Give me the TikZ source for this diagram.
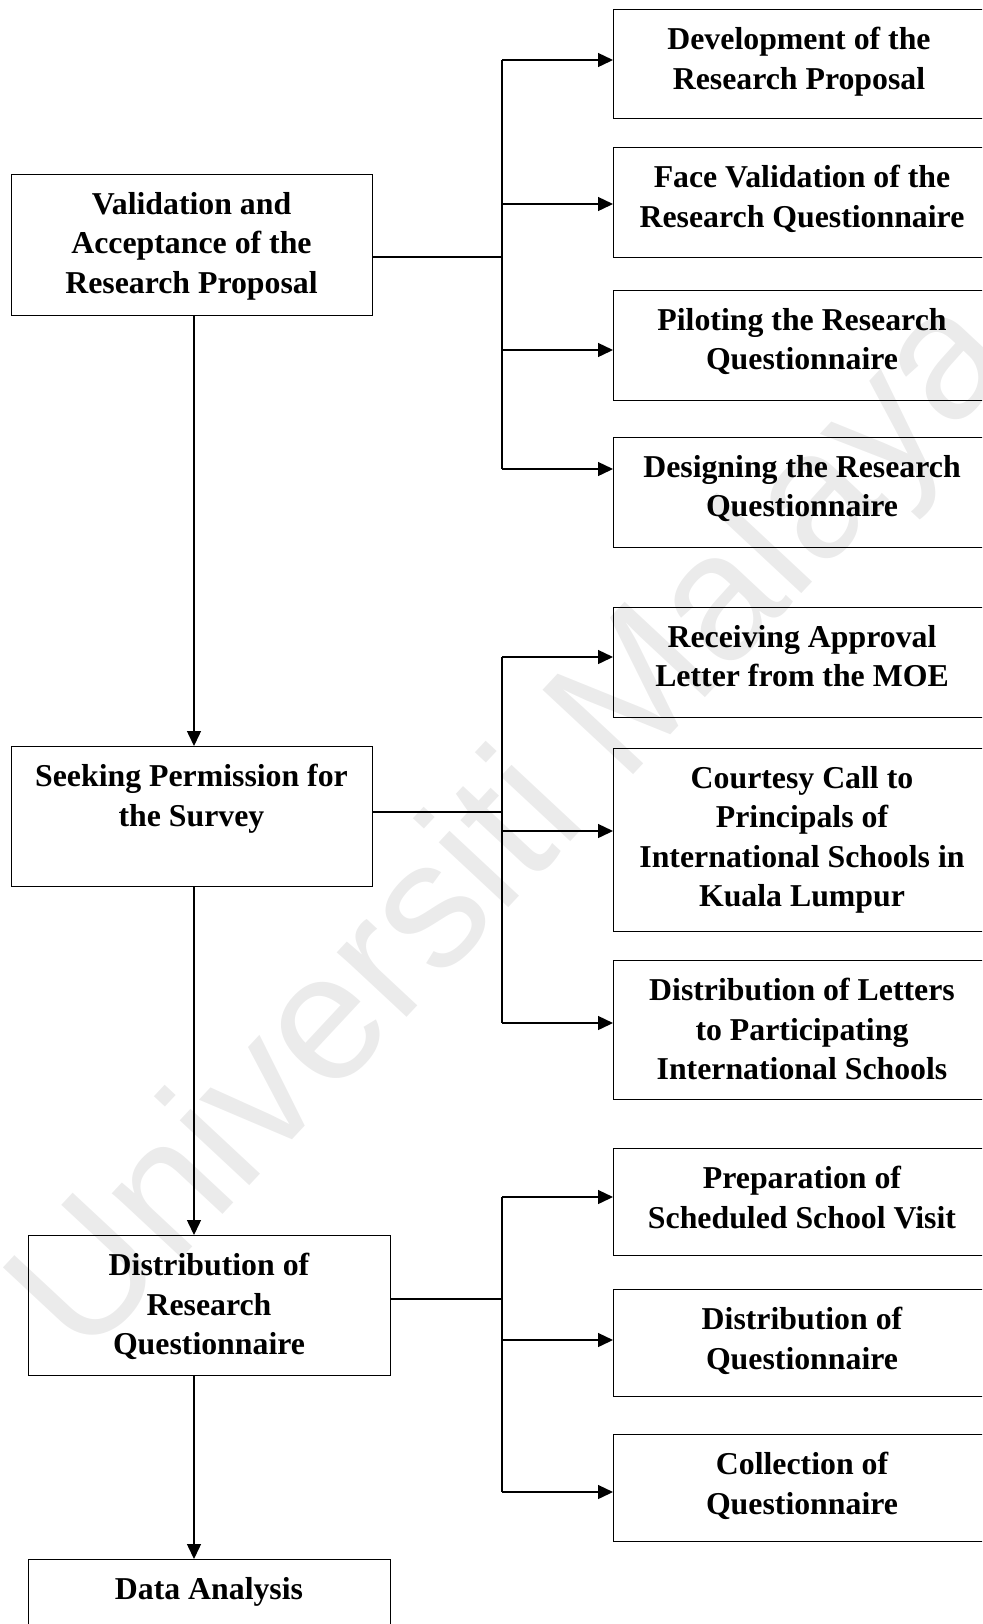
\documentclass[tikz,border=0pt]{standalone}
\usepackage{fontspec}
\setmainfont{Liberation Serif}
\newfontfamily\markfont{Liberation Sans}
\usetikzlibrary{arrows.meta}
\begin{document}
\begin{tikzpicture}[x=0.5pt,y=-0.5pt,
  flowbox/.style={draw=black, line width=0.7pt, rectangle, inner sep=0pt, anchor=north west},
  leftbox/.style={flowbox, minimum width=180.5pt, minimum height=70pt},
  rightbox/.style={flowbox, minimum width=190pt},
  boxtext/.style={anchor=north, inner sep=0pt, align=center,
    font=\bfseries\fontsize{15.9pt}{19.7pt}\selectfont},
  link/.style={draw=black, line width=0.7pt},
  flowarrow/.style={link, -{Triangle[length=7.5pt,width=7pt]}},
  watermark/.style={rotate=47, text=black!8, inner sep=0pt,
    font=\markfont\fontsize{90pt}{90pt}\selectfont}
]
\useasboundingbox (0,0) rectangle (982,1624);
\clip (0,0) rectangle (982,1624);

% background watermark
\node[watermark] (mark) at (518,830) {Universiti Malaya};

% main stages (left column)
\node[leftbox, minimum height=70.5pt] (val) at (11,174) {};
\node[boxtext] (val-text) at (191.5,192) {Validation and\\Acceptance of the\\Research Proposal};
\node[leftbox] (seek) at (11,746) {};
\node[boxtext] (seek-text) at (191.5,764) {Seeking Permission for\\the Survey};
\node[leftbox, minimum width=181pt] (distq) at (28,1235) {};
\node[boxtext] (distq-text) at (209,1253) {Distribution of\\Research\\Questionnaire};
\node[leftbox, minimum width=181pt] (data) at (28,1559) {};
\node[boxtext] (data-text) at (209,1577) {Data Analysis};

% sub-steps (right column)
\node[rightbox, minimum height=54.5pt] (dev) at (613,9) {};
\node[boxtext] (dev-text) at (799,27) {Development of the\\Research Proposal};
\node[rightbox, minimum height=55pt] (face) at (613,147) {};
\node[boxtext] (face-text) at (802,165) {Face Validation of the\\Research Questionnaire};
\node[rightbox, minimum height=55pt] (pilot) at (613,290) {};
\node[boxtext] (pilot-text) at (802,308) {Piloting the Research\\Questionnaire};
\node[rightbox, minimum height=55pt] (design) at (613,437) {};
\node[boxtext] (design-text) at (802,455) {Designing the Research\\Questionnaire};

\node[rightbox, minimum height=55pt] (recv) at (613,607) {};
\node[boxtext] (recv-text) at (802,625) {Receiving Approval\\Letter from the MOE};
\node[rightbox, minimum height=91.5pt] (court) at (613,748) {};
\node[boxtext] (court-text) at (802,766) {Courtesy Call to\\Principals of\\International Schools in\\Kuala Lumpur};
\node[rightbox, minimum height=69.5pt] (distl) at (613,960) {};
\node[boxtext] (distl-text) at (802,978) {Distribution of Letters\\to Participating\\International Schools};

\node[rightbox, minimum height=53.5pt] (prep) at (613,1148) {};
\node[boxtext] (prep-text) at (802,1166) {Preparation of\\Scheduled School Visit};
\node[rightbox, minimum height=53.5pt] (distrq) at (613,1289) {};
\node[boxtext] (distrq-text) at (802,1307) {Distribution of\\Questionnaire};
\node[rightbox, minimum height=53.5pt] (coll) at (613,1434) {};
\node[boxtext] (coll-text) at (802,1452) {Collection of\\Questionnaire};

% connector anchor points
\coordinate (spine) at (194,0);
\coordinate (bus) at (502,0);
\coordinate (val-out) at (372,257);
\coordinate (seek-out) at (372,812);
\coordinate (distq-out) at (390,1299);
\coordinate (dev-in) at (613,60);
\coordinate (face-in) at (613,204);
\coordinate (pilot-in) at (613,350);
\coordinate (design-in) at (613,469);
\coordinate (recv-in) at (613,657);
\coordinate (court-in) at (613,831);
\coordinate (distl-in) at (613,1023);
\coordinate (prep-in) at (613,1197);
\coordinate (distrq-in) at (613,1340);
\coordinate (coll-in) at (613,1492);

% main sequence
\draw[flowarrow] (spine |- val.south) -- (spine |- seek.north);
\draw[flowarrow] (spine |- seek.south) -- (spine |- distq.north);
\draw[flowarrow] (spine |- distq.south) -- (spine |- data.north);

% branch 1
\draw[link] (val-out) -- (bus |- val-out);
\draw[link] (bus |- dev-in) -- (bus |- design-in);
\foreach \t in {dev,face,pilot,design}
  \draw[flowarrow] (bus |- \t-in) -- (\t-in);

% branch 2
\draw[link] (seek-out) -- (bus |- seek-out);
\draw[link] (bus |- recv-in) -- (bus |- distl-in);
\foreach \t in {recv,court,distl}
  \draw[flowarrow] (bus |- \t-in) -- (\t-in);

% branch 3
\draw[link] (distq-out) -- (bus |- distq-out);
\draw[link] (bus |- prep-in) -- (bus |- coll-in);
\foreach \t in {prep,distrq,coll}
  \draw[flowarrow] (bus |- \t-in) -- (\t-in);
\end{tikzpicture}
\end{document}
